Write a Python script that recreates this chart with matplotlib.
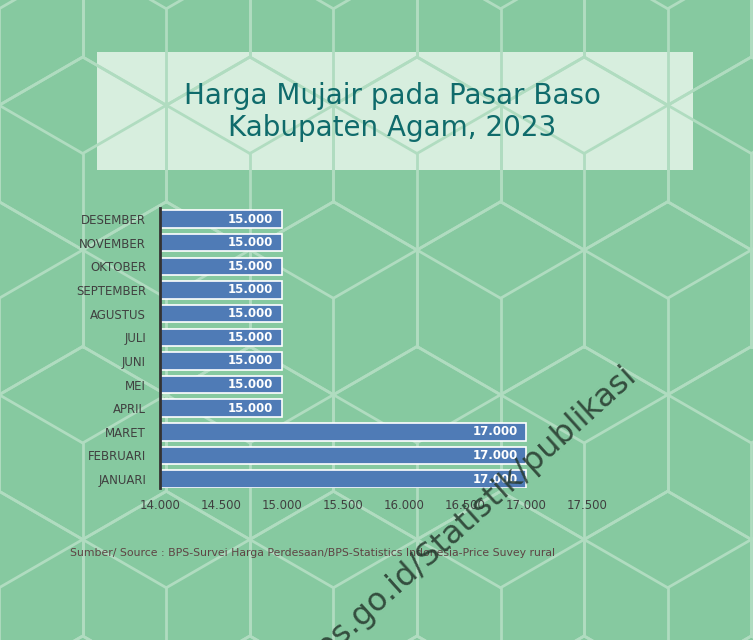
import matplotlib.pyplot as plt
from matplotlib.collections import LineCollection
import numpy as np

bulan = ['JANUARI', 'FEBRUARI', 'MARET', 'APRIL', 'MEI', 'JUNI', 'JULI',
         'AGUSTUS', 'SEPTEMBER', 'OKTOBER', 'NOVEMBER', 'DESEMBER']
harga = [17000, 17000, 17000, 15000, 15000, 15000, 15000,
         15000, 15000, 15000, 15000, 15000]
xticks = [14000, 14500, 15000, 15500, 16000, 16500, 17000, 17500]

bg = '#86c9a0'
fig = plt.figure(figsize=(7.53, 6.4), dpi=100, facecolor=bg)

# background: tumbling-blocks pattern (hexagons split into three rhombi)
bgax = fig.add_axes([0, 0, 1, 1])
bgax.set_xlim(0, 753)
bgax.set_ylim(640, 0)
bgax.axis('off')
s = 96.5
w = np.sqrt(3) * s
segs = []
for j in range(-4, 4):
    for i in range(-4, 4):
        cx = 417 + i * w + (j % 2) * w / 2
        cy = 443 + j * 1.5 * s
        pts = [(cx + s * np.cos(np.radians(a)), cy - s * np.sin(np.radians(a)))
               for a in [90, 30, -30, -90, -150, 150]]
        for k in range(6):
            segs.append([pts[k], pts[(k + 1) % 6]])
        for k in [5, 1, 3]:
            segs.append([(cx, cy), pts[k]])
bgax.add_collection(LineCollection(segs, colors='#b0dcc0', linewidths=2,
                                   capstyle='round'))

# title box
bgax.add_patch(plt.Rectangle((97, 52), 596, 118, facecolor='#e4f4e8',
                             alpha=0.87, edgecolor='none'))
bgax.text(392, 112, 'Harga Mujair pada Pasar Baso\nKabupaten Agam, 2023',
          ha='center', va='center', fontsize=20, color='#0f6b6b',
          linespacing=1.2)

bgax.text(70, 553, 'Sumber/ Source : BPS-Survei Harga Perdesaan/BPS-Statistics Indonesia-Price Suvey rural',
          fontsize=7.8, color='#5e4444', va='center')

# chart
ax = fig.add_axes([160 / 753, 1 - 488 / 640, 427 / 753, 280 / 640])
ax.patch.set_alpha(0)
y = np.arange(len(bulan))
ax.barh(y, harga, height=0.74, color='#4f7bb6',
        edgecolor='white', linewidth=1.2)
ax.set_xlim(14000, 17500)
ax.set_ylim(-0.38, len(bulan) - 0.53)
ax.set_xticks(xticks)
ax.set_xticklabels([f'{v:,}'.replace(',', '.') for v in xticks])
ax.set_yticks(y)
ax.set_yticklabels(bulan)
ax.tick_params(length=0, labelsize=8.5, colors='#404040')
ax.tick_params(axis='x', pad=8)
ax.tick_params(axis='y', pad=10)
for sp in ['top', 'right', 'bottom']:
    ax.spines[sp].set_visible(False)
ax.spines['left'].set_color('#333333')
ax.spines['left'].set_linewidth(2)
for yi, v in zip(y, harga):
    ax.text(v - 70, yi, f'{v:,}'.replace(',', '.'), ha='right', va='center',
            color='white', fontsize=8.5, fontweight='bold')

# watermark on top of everything
fig.text(638 / 753, 1 - 378 / 640, 'agamkab.bps.go.id/Statistik/publikasi',
         rotation=42, rotation_mode='anchor', ha='right', va='baseline',
         fontsize=23, color='#25382d', alpha=0.85, zorder=10)

fig.savefig('out.png', dpi=100, facecolor=bg)
